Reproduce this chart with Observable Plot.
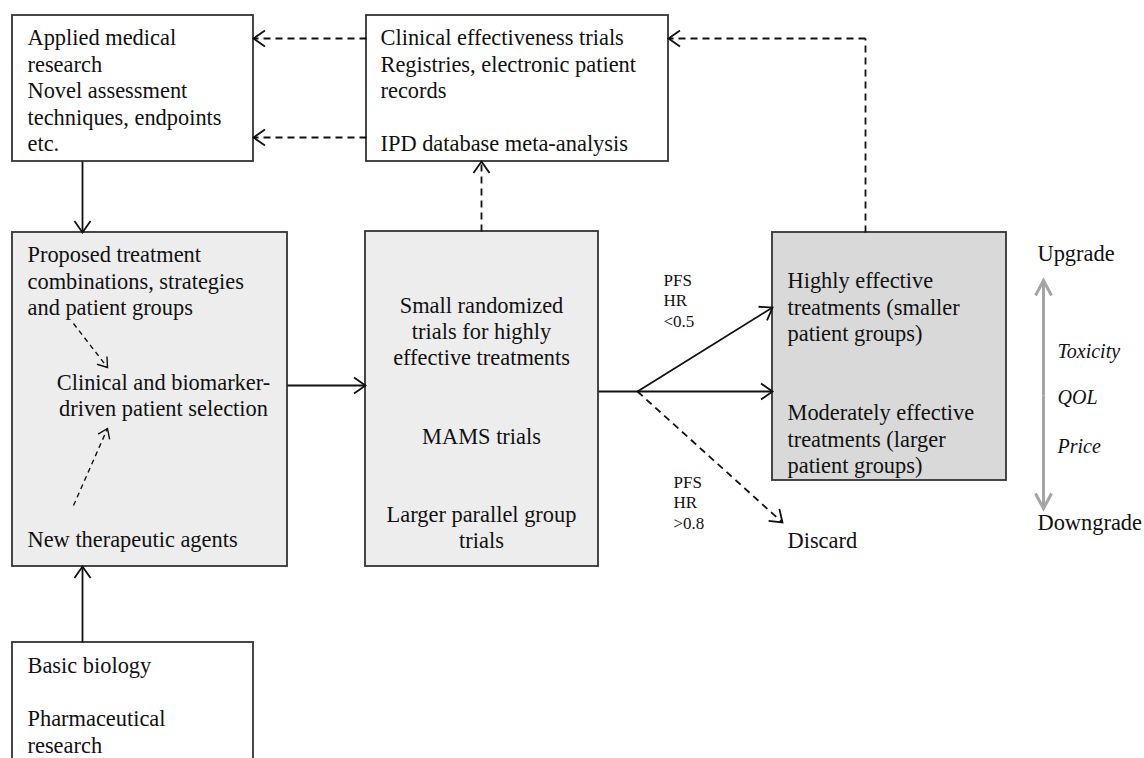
<!DOCTYPE html>
<html><head><meta charset="utf-8">
<script src="https://cdn.jsdelivr.net/npm/d3@7"></script>
<script src="https://cdn.jsdelivr.net/npm/@observablehq/plot@0.6"></script>
<style>html,body{margin:0;padding:0;background:#fff;} svg{display:block;}</style>
</head><body><div id="chart"></div>
<script>
// Boxes of the flow diagram (diagram coordinates, y downward)
const boxes = [
  {name:"applied",  x1:12,  x2:253,  y1:15,  y2:161, tone:"plain"},
  {name:"clinical", x1:366, x2:668,  y1:15,  y2:161, tone:"plain"},
  {name:"proposed", x1:12,  x2:287,  y1:232, y2:566, tone:"light"},
  {name:"trials",   x1:365, x2:598,  y1:231, y2:566, tone:"light"},
  {name:"outcomes", x1:772, x2:1006, y1:232, y2:480, tone:"dark"},
  {name:"basic",    x1:12,  x2:253,  y1:642, y2:790, tone:"plain"}
];
// Left-aligned labels (x = left edge, y = first baseline)
const leftLabels = [
  {text:"Applied medical\nresearch\nNovel assessment\ntechniques, endpoints\netc.", x:27, y:42},
  {text:"Clinical effectiveness trials\nRegistries, electronic patient\nrecords\n\nIPD database meta-analysis", x:380, y:42},
  {text:"Proposed treatment\ncombinations, strategies\nand patient groups", x:27, y:259},
  {text:"New therapeutic agents", x:27, y:544},
  {text:"Highly effective\ntreatments (smaller\npatient groups)\n\n\nModerately effective\ntreatments (larger\npatient groups)", x:787, y:285},
  {text:"Basic biology\n\nPharmaceutical\nresearch", x:27, y:670},
  {text:"Discard", x:787, y:545},
  {text:"Upgrade", x:1037, y:258},
  {text:"Downgrade", x:1037, y:527}
];
// Centered labels (x = center, y = first baseline)
const centerLabels = [
  {text:"Clinical and biomarker-\ndriven patient selection", x:163, y:387},
  {text:"Small randomized\ntrials for highly\neffective treatments\n\n\nMAMS trials\n\n\nLarger parallel group\ntrials", x:481, y:310}
];
// Small threshold labels
const thresholdLabels = [
  {text:"PFS\nHR\n<0.5", x:663, y:283},
  {text:"PFS\nHR\n>0.8", x:673, y:485}
];
// Italic criteria
const criteria = [
  {text:"Toxicity", x:1057, y:357},
  {text:"QOL", x:1057, y:403},
  {text:"Price", x:1057, y:452}
];
// Connectors (x1,y1 -> x2,y2; head at x2,y2)
const solidArrows = [
  {x1:82,  y1:161, x2:82,  y2:232},
  {x1:82,  y1:642, x2:82,  y2:566},
  {x1:287, y1:385, x2:365, y2:385},
  {x1:598, y1:391, x2:772, y2:391},
  {x1:637, y1:391, x2:772, y2:307}
];
const dashedArrows = [
  {x1:366, y1:38,  x2:253, y2:38},
  {x1:366, y1:137, x2:253, y2:137},
  {x1:865, y1:38,  x2:668, y2:38},
  {x1:481, y1:231, x2:481, y2:161},
  {x1:637, y1:391, x2:782, y2:522}
];
const dashedConnector = [
  {x1:865, y1:232, x2:865, y2:38}
];
const innerArrows = [
  {x1:73, y1:323, x2:107, y2:367},
  {x1:73, y1:505, x2:107, y2:428}
];
const gradeArrows = [
  {x1:1043, y1:395, x2:1043, y2:280},
  {x1:1043, y1:395, x2:1043, y2:508}
];

// open chevron arrowhead drawn at the tip; r = wing length
function chevron(halfAngleDeg) {
  const t = halfAngleDeg * Math.PI / 180;
  return {draw(ctx, l, r) {
    const a = r * Math.sin(t), b = r * Math.cos(t);
    ctx.moveTo(-a, b); ctx.lineTo(0, 0); ctx.lineTo(a, b);
  }};
}
const heading = d => Math.atan2(d.x2 - d.x1, -(d.y2 - d.y1)) * 180 / Math.PI;
function heads(data, opts) {
  return Plot.vector(data, {x:"x2", y:"y2", rotate:heading, length:1, anchor:"start", fill:"none", strokeLinejoin:"miter", strokeLinecap:"butt", ...opts});
}

const font = "'Liberation Serif', 'Times New Roman', serif";
const fs = 22.4;
const chart = Plot.plot({
  width: 1144, height: 758, margin: 0,
  style: {fontFamily: font, background: "#fff"},
  x: {domain: [0, 1144], range: [0, 1144], axis: null},
  y: {domain: [0, 758], range: [0, 758], axis: null},
  color: {domain: ["plain", "light", "dark"], range: ["#ffffff", "#ededed", "#d9d9d9"]},
  marks: [
    Plot.rect(boxes, {x1:"x1", x2:"x2", y1:"y1", y2:"y2", fill:"tone", stroke:"#333", strokeWidth:1.8}),
    Plot.link(solidArrows, {x1:"x1", y1:"y1", x2:"x2", y2:"y2", stroke:"#111", strokeWidth:1.8}),
    heads(solidArrows, {stroke:"#111", strokeWidth:1.8, r:14, shape:chevron(35)}),
    Plot.link(dashedArrows.concat(dashedConnector), {x1:"x1", y1:"y1", x2:"x2", y2:"y2", stroke:"#111", strokeWidth:1.8, strokeDasharray:"7,5"}),
    heads(dashedArrows, {stroke:"#111", strokeWidth:1.8, r:14, shape:chevron(35)}),
    Plot.link(innerArrows, {x1:"x1", y1:"y1", x2:"x2", y2:"y2", stroke:"#111", strokeWidth:1.4, strokeDasharray:"5,4"}),
    heads(innerArrows, {stroke:"#111", strokeWidth:1.4, r:11, shape:chevron(35)}),
    Plot.link(gradeArrows, {x1:"x1", y1:"y1", x2:"x2", y2:"y2", stroke:"#a5a5a5", strokeWidth:3}),
    heads(gradeArrows, {stroke:"#a5a5a5", strokeWidth:3, r:17, shape:chevron(28)}),
    Plot.text(leftLabels, {x:"x", y:"y", text:"text", textAnchor:"start", lineAnchor:"top", dy:-0.71 * fs, fontSize:fs, lineHeight:26.4 / fs, fill:"#111"}),
    Plot.text(centerLabels, {x:"x", y:"y", text:"text", textAnchor:"middle", lineAnchor:"top", dy:-0.71 * fs, fontSize:fs, lineHeight:26.1 / fs, fill:"#111"}),
    Plot.text(thresholdLabels, {x:"x", y:"y", text:"text", textAnchor:"start", lineAnchor:"top", dy:-12.1, fontSize:17, lineHeight:1.2, fill:"#111"}),
    Plot.text(criteria, {x:"x", y:"y", text:"text", textAnchor:"start", lineAnchor:"top", dy:-14.2, fontSize:20, fontStyle:"italic", fill:"#111"})
  ]
});
document.getElementById("chart").appendChild(chart);
</script>
</body></html>
